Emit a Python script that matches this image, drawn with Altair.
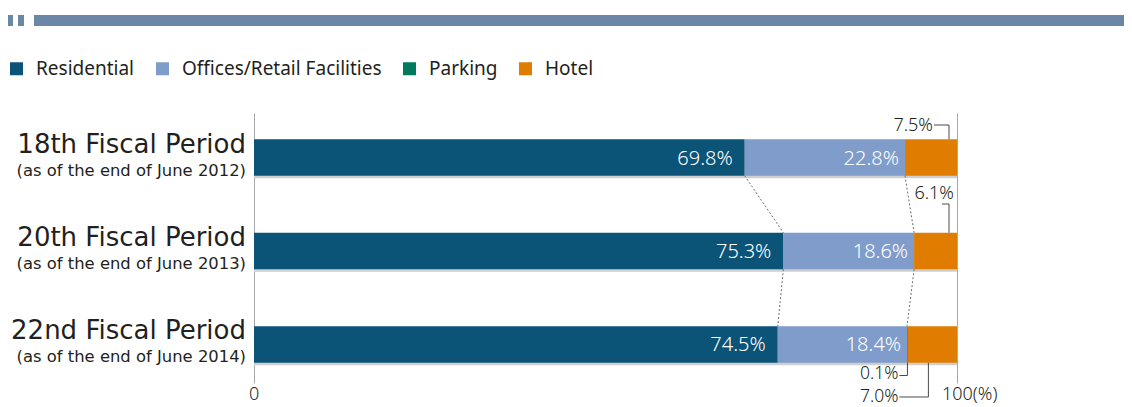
import altair as alt
import pandas as pd

periods = ["18th Fiscal Period", "20th Fiscal Period", "22nd Fiscal Period"]
subtitles = ["(as of the end of June 2012)", "(as of the end of June 2013)", "(as of the end of June 2014)"]
categories = ["Residential", "Offices/Retail Facilities", "Parking", "Hotel"]
residential = [69.8, 75.3, 74.5]
offices = [22.8, 18.6, 18.4]
parking = [0.0, 0.0, 0.1]
hotel = [7.5, 6.1, 7.0]
colors = ["#0b5478", "#7f9cca", "#007a5f", "#e07c00"]
tick_values = [0, 100]
tick_labels = ["0", "100(%)"]

FONT = "Noto Sans"
LABEL_FONT = "DejaVu Sans"
TXT = "#231f20"

series = [residential, offices, parking, hotel]
rows = []
for i, p in enumerate(periods):
    start = 0.0
    for cat, vals in zip(categories, series):
        v = vals[i]
        if v > 0:
            rows.append(dict(period=p, sub=subtitles[i], cat=cat, value=v,
                             start=round(start, 2), end=round(start + v, 2),
                             mid=round(start + v / 2, 2), label=f"{v:.1f}%"))
        start += v
seg = pd.DataFrame(rows)

conn = []
for cat in ["Residential", "Offices/Retail Facilities"]:
    for i in range(len(periods) - 1):
        a = seg[(seg.period == periods[i]) & (seg.cat == cat)].iloc[0]
        b = seg[(seg.period == periods[i + 1]) & (seg.cat == cat)].iloc[0]
        conn.append(dict(p1=periods[i], p2=periods[i + 1], x1=a.end, x2=b.end))
conn = pd.DataFrame(conn)

labels_df = pd.DataFrame({"period": periods, "sub": subtitles})
ticks_df = pd.DataFrame({"v": tick_values, "t": tick_labels})

xscale = alt.Scale(domain=[0, 100], clamp=True)
yscale = alt.Scale(domain=periods, paddingInner=0.6096, paddingOuter=0.2487, align=0.5645)
xaxis = alt.Axis(values=[0, 100], grid=True, labels=False, ticks=False, domain=False,
                 title=None, gridColor="#a8a8a8", gridWidth=1)


def X(f):
    return alt.X(f, type="quantitative", scale=xscale, axis=xaxis)


def Y(f="period"):
    return alt.Y(f, type="nominal", scale=yscale, axis=None)


one = pd.DataFrame({"a": [0]})
layers = []

# bar shadow
tot = seg.groupby("period", as_index=False).agg(end=("end", "max"))
tot["start"] = 0.0
layers.append(alt.Chart(tot).mark_bar(color="#cfcfcf", yOffset=2.5).encode(
    x=X("start"), x2="end", y=Y()))

# bars
layers.append(alt.Chart(seg).mark_bar().encode(
    x=X("start"), x2="end", y=Y(),
    color=alt.Color("cat:N", scale=alt.Scale(domain=categories, range=colors),
                    legend=alt.Legend(orient="none", legendX=-247, legendY=-54,
                                      direction="horizontal", title=None,
                                      symbolType="square", symbolSize=169,
                                      symbolStrokeWidth=0, labelFont=FONT,
                                      labelFontSize=19, labelColor=TXT,
                                      columnPadding=18, labelOffset=10,
                                      labelLimit=0, symbolOpacity=1)),
))

# in-bar labels
for cat, dx in [("Residential", -12), ("Offices/Retail Facilities", -6)]:
    layers.append(alt.Chart(seg[seg.cat == cat]).mark_text(
        align="right", baseline="middle", dx=dx, dy=1, color="white",
        font=FONT, fontSize=20, fontWeight=300).encode(
        x=X("end"), y=Y(), text="label"))

# dotted connectors
layers.append(alt.Chart(conn).mark_rule(
    color="#6e6e6e", strokeDash=[2, 2], strokeWidth=1, yOffset=18.25, y2Offset=-18.25).encode(
    x=X("x1"), x2="x2", y=Y("p1"), y2="p2"))

# annotations with leader lines
LC = "#4a4a4a"
def annot(df, xf, vx, vy1, vy2, hx1, hx2, hy, tdx, tdy, fs=18):
    out = []
    out.append(alt.Chart(df).mark_rule(color=LC, strokeWidth=1, xOffset=vx,
                                       yOffset=vy1, y2Offset=vy2).encode(
        x=X(xf), y=Y(), y2="period"))
    out.append(alt.Chart(df).mark_rule(color=LC, strokeWidth=1, xOffset=hx1,
                                       x2Offset=hx2, yOffset=hy).encode(
        x=X(xf), x2=xf, y=Y()))
    out.append(alt.Chart(df).mark_text(align="right", baseline="middle", dx=tdx, dy=tdy,
                                       color=TXT, font=FONT, fontSize=fs,
                                       fontWeight=300).encode(
        x=X(xf), y=Y(), text="label"))
    return out

h1 = seg[(seg.period == periods[0]) & (seg.cat == "Hotel")]
h2 = seg[(seg.period == periods[1]) & (seg.cat == "Hotel")]
p3 = seg[(seg.period == periods[2]) & (seg.cat == "Parking")]
h3 = seg[(seg.period == periods[2]) & (seg.cat == "Hotel")]
layers += annot(h1, "end", -8, -18.25, -32.5, -23, -8, -32.5, -24, -31.5)
layers += annot(h2, "end", -8, -18.25, -47, -15, -8, -47, -3, -57)
layers += annot(p3, "mid", 0, 18.25, 31, -8, 0, 31, -9, 29.5, fs=17.5)
layers += annot(h3, "mid", -4, 18.25, 52.5, -33, -4, 52.5, -34, 52.5, fs=17.5)

# period labels
layers.append(alt.Chart(labels_df).mark_text(
    align="right", baseline="alphabetic", dx=-8, dy=-5, color=TXT,
    font=LABEL_FONT, fontSize=26).encode(x=alt.value(0), y=Y(), text="period"))
layers.append(alt.Chart(labels_df).mark_text(
    align="right", baseline="alphabetic", dx=-8, dy=18, color=TXT,
    font=LABEL_FONT, fontSize=16.4).encode(x=alt.value(0), y=Y(), text="sub"))

# x tick labels
for v, dx in [(0, -5), (100, -15)]:
    layers.append(alt.Chart(ticks_df[ticks_df.v == v]).mark_text(
        align="left", baseline="middle", dx=dx, color=TXT, font=FONT,
        fontSize=18, fontWeight=300).encode(x=X("v"), y=alt.value(282), text="t"))

# header decoration
for x1, x2 in [(-246, -241), (-236, -230), (-220, 870)]:
    layers.append(alt.Chart(one).mark_rect(color="#6a87a5").encode(
        x=alt.value(x1), x2=alt.value(x2), y=alt.value(-98), y2=alt.value(-87)))

chart = alt.layer(*layers).properties(
    width=703, height=270,
    autosize=alt.AutoSizeParams(type="none"),
    padding={"left": 246, "top": 105, "right": 167, "bottom": 24},
).configure_view(stroke=None)

chart.save("out.html", embed_options={"renderer": "svg", "actions": False})
